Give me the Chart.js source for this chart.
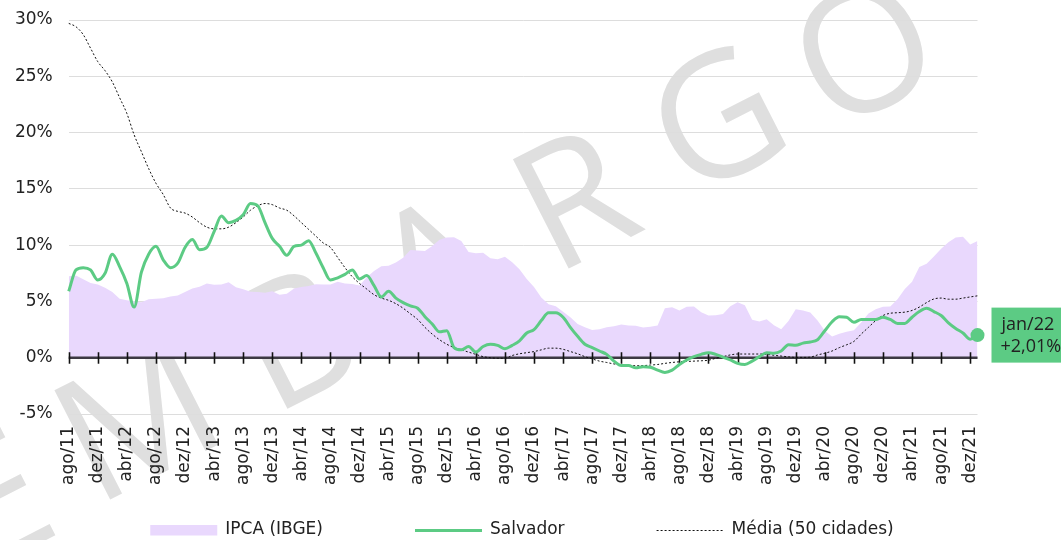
<!DOCTYPE html>
<html><head><meta charset="utf-8">
<script src="https://cdn.jsdelivr.net/npm/chart.js@4.4.1/dist/chart.umd.min.js"></script>
<style>html,body{margin:0;padding:0;background:#fff;overflow:hidden}</style>
</head><body>
<canvas id="c" width="1061" height="540"></canvas>
<script>
const categories = [
 'ago/11','set/11','out/11','nov/11','dez/11',
 'jan/12','fev/12','mar/12','abr/12','mai/12','jun/12','jul/12','ago/12','set/12','out/12','nov/12','dez/12',
 'jan/13','fev/13','mar/13','abr/13','mai/13','jun/13','jul/13','ago/13','set/13','out/13','nov/13','dez/13',
 'jan/14','fev/14','mar/14','abr/14','mai/14','jun/14','jul/14','ago/14','set/14','out/14','nov/14','dez/14',
 'jan/15','fev/15','mar/15','abr/15','mai/15','jun/15','jul/15','ago/15','set/15','out/15','nov/15','dez/15',
 'jan/16','fev/16','mar/16','abr/16','mai/16','jun/16','jul/16','ago/16','set/16','out/16','nov/16','dez/16',
 'jan/17','fev/17','mar/17','abr/17','mai/17','jun/17','jul/17','ago/17','set/17','out/17','nov/17','dez/17',
 'jan/18','fev/18','mar/18','abr/18','mai/18','jun/18','jul/18','ago/18','set/18','out/18','nov/18','dez/18',
 'jan/19','fev/19','mar/19','abr/19','mai/19','jun/19','jul/19','ago/19','set/19','out/19','nov/19','dez/19',
 'jan/20','fev/20','mar/20','abr/20','mai/20','jun/20','jul/20','ago/20','set/20','out/20','nov/20','dez/20',
 'jan/21','fev/21','mar/21','abr/21','mai/21','jun/21','jul/21','ago/21','set/21','out/21','nov/21','dez/21',
 'jan/22'
];
const xTickLabels = ['ago/11','dez/11','abr/12','ago/12','dez/12','abr/13','ago/13','dez/13','abr/14','ago/14','dez/14',
 'abr/15','ago/15','dez/15','abr/16','ago/16','dez/16','abr/17','ago/17','dez/17','abr/18','ago/18','dez/18',
 'abr/19','ago/19','dez/19','abr/20','ago/20','dez/20','abr/21','ago/21','dez/21'];
const yTicks = [-5, 0, 5, 10, 15, 20, 25, 30];

const ipca = [
 7.23,7.31,6.97,6.64,6.50,
 6.22,5.85,5.24,5.10,4.99,4.92,5.20,5.24,5.28,5.45,5.53,5.84,
 6.15,6.31,6.59,6.49,6.50,6.70,6.27,6.09,5.86,5.84,5.77,5.91,
 5.59,5.68,6.15,6.28,6.37,6.52,6.50,6.51,6.75,6.59,6.56,6.41,
 7.14,7.70,8.13,8.17,8.47,8.89,9.56,9.53,9.49,9.93,10.48,10.67,
 10.71,10.36,9.39,9.28,9.32,8.84,8.74,8.97,8.48,7.87,6.99,6.29,
 5.35,4.76,4.57,4.08,3.60,3.00,2.71,2.46,2.54,2.70,2.80,2.95,
 2.86,2.84,2.68,2.76,2.86,4.39,4.48,4.19,4.53,4.56,4.05,3.75,
 3.78,3.89,4.58,4.94,4.66,3.37,3.22,3.43,2.89,2.54,3.27,4.31,
 4.19,4.01,3.30,2.40,1.88,2.13,2.31,2.44,3.14,3.92,4.31,4.52,
 4.56,5.20,6.10,6.76,8.06,8.35,8.99,9.68,10.25,10.67,10.74,10.06,
 10.38
];
const salvador = [
 5.9,7.8,8.0,7.8,6.9,7.5,9.2,8.1,6.6,4.5,
 7.6,9.2,9.9,8.7,8.0,8.4,9.8,10.5,9.6,9.8,
 11.2,12.6,12.0,12.2,12.7,13.7,13.5,12.0,10.6,9.9,
 9.1,9.9,10.0,10.4,9.3,8.0,6.9,7.1,7.4,7.8,
 7.0,7.3,6.4,5.4,5.9,5.3,4.9,4.6,4.4,3.65,
 3.0,2.3,2.4,0.9,0.7,1.0,0.5,1.0,1.2,1.1,
 0.8,1.1,1.5,2.2,2.5,3.3,4.0,4.0,3.6,2.7,
 1.9,1.2,0.9,0.6,0.3,-0.3,-0.7,-0.7,-0.9,-0.8,
 -0.85,-1.1,-1.3,-1.1,-0.6,-0.2,0.1,0.3,0.45,0.3,
 0.05,-0.2,-0.5,-0.6,-0.3,0.1,0.45,0.4,0.6,1.15,
 1.1,1.3,1.4,1.6,2.4,3.2,3.65,3.6,3.15,3.4,
 3.4,3.4,3.6,3.4,3.05,3.05,3.6,4.1,4.4,4.1,
 3.75,3.1,2.6,2.2,1.65,2.01
];
const media = [
 29.7,29.4,28.7,27.5,26.3,25.5,24.5,23.1,21.7,19.8,
 18.3,16.8,15.5,14.5,13.3,13.0,12.85,12.5,12.0,11.6,
 11.45,11.45,11.6,12.0,12.5,13.1,13.5,13.7,13.6,13.3,
 13.1,12.6,12.0,11.4,10.8,10.2,9.8,8.9,8.0,7.2,
 6.6,6.1,5.6,5.3,5.1,4.8,4.4,3.9,3.4,2.7,
 2.1,1.6,1.2,0.9,0.7,0.5,0.3,0.1,0.0,-0.05,
 -0.05,0.2,0.35,0.45,0.55,0.7,0.85,0.85,0.75,0.55,
 0.35,0.1,-0.1,-0.3,-0.42,-0.55,-0.62,-0.68,-0.71,-0.7,
 -0.65,-0.6,-0.5,-0.42,-0.36,-0.33,-0.3,-0.27,-0.22,-0.05,
 0.1,0.25,0.33,0.33,0.33,0.33,0.3,0.22,0.15,0.08,
 0.03,0.03,0.05,0.25,0.4,0.6,0.9,1.15,1.45,2.1,
 2.7,3.3,3.75,3.95,4.0,4.05,4.2,4.5,4.9,5.22,
 5.3,5.2,5.2,5.3,5.4,5.5
];
const seriesNames = ['IPCA (IBGE)', 'Salvador', 'Média (50 cidades)'];

const FONT = '"DejaVu Sans", sans-serif';
const LAVENDER = '#e9d8fd';
const GREEN = '#5ccb84';
const TEXT = '#222222';

const watermarkLetters = [['E',-2,505],['M',140,425],['B',298,344],['A',437,272],['R',577,205],['G',720,125],['O',867,57]];

const watermarkPlugin = {
  id: 'watermark',
  beforeDraw(chart) {
    const ctx = chart.ctx;
    ctx.save();
    ctx.fillStyle = '#dfdfdf';
    ctx.font = '172px "Open Sans", sans-serif';
    ctx.textAlign = 'center';
    ctx.textBaseline = 'middle';
    for (const [ch, x, y] of watermarkLetters) {
      ctx.save();
      ctx.translate(x, y);
      ctx.rotate(-27 * Math.PI / 180);
      ctx.fillText(ch, 0, 4);
      ctx.restore();
    }
    ctx.restore();
  }
};

const zeroAxisPlugin = {
  id: 'zeroAxis',
  afterDatasetDraw(chart, args) {
    if (args.index !== 0) return;
    const {ctx, chartArea, scales: {x, y}} = chart;
    const y0 = y.getPixelForValue(0);
    ctx.save();
    ctx.strokeStyle = '#3d3943';
    ctx.lineWidth = 2.5;
    ctx.beginPath();
    ctx.moveTo(chartArea.left, y0);
    ctx.lineTo(chartArea.right, y0);
    ctx.stroke();
    ctx.strokeStyle = '#111';
    ctx.lineWidth = 1.6;
    categories.forEach((c, i) => {
      if (!xTickLabels.includes(c)) return;
      const px = Math.round(x.getPixelForValue(i)) + 0.5;
      ctx.beginPath();
      ctx.moveTo(px, y0 - 5.5);
      ctx.lineTo(px, y0 + 6);
      ctx.stroke();
    });
    ctx.restore();
  }
};

const endLabelPlugin = {
  id: 'endLabel',
  afterDraw(chart) {
    const {ctx, scales: {x, y}} = chart;
    const last = salvador.length - 1;
    const px = x.getPixelForValue(last);
    const py = y.getPixelForValue(salvador[last]);
    const bx = px + 14, bw = 74, bh = 55;
    ctx.save();
    ctx.fillStyle = GREEN;
    ctx.fillRect(bx, py - bh / 2, bw, bh);
    ctx.fillStyle = TEXT;
    ctx.font = '18px "Open Sans", sans-serif';
    ctx.textAlign = 'left';
    ctx.textBaseline = 'middle';
    ctx.fillText(categories[last], bx + 10, py - 10);
    ctx.fillText('+' + salvador[last].toFixed(2).replace('.', ',') + '%', bx + 9, py + 12);
    ctx.restore();
  }
};

const legendPlugin = {
  id: 'customLegend',
  afterDraw(chart) {
    const ctx = chart.ctx;
    const ds = chart.data.datasets;
    const boxW = 67, gapText = 8, gapItem = 92, cy = 530, centerX = 522;
    ctx.save();
    ctx.font = '17px ' + FONT;
    const widths = ds.map(d => boxW + gapText + ctx.measureText(d.label).width);
    const total = widths.reduce((a, b) => a + b, 0) + gapItem * (ds.length - 1);
    let cx = centerX - total / 2;
    ds.forEach((d, i) => {
      if (d.fill) {
        ctx.fillStyle = d.backgroundColor;
        ctx.fillRect(cx, cy - 5, boxW, 10.5);
      } else {
        ctx.strokeStyle = d.borderColor;
        ctx.lineWidth = d.borderWidth;
        ctx.setLineDash(d.borderDash || []);
        ctx.beginPath();
        ctx.moveTo(cx, cy + 0.5);
        ctx.lineTo(cx + boxW, cy + 0.5);
        ctx.stroke();
        ctx.setLineDash([]);
      }
      ctx.fillStyle = TEXT;
      ctx.textAlign = 'left';
      ctx.textBaseline = 'middle';
      ctx.fillText(d.label, cx + boxW + gapText, cy);
      cx += widths[i] + gapItem;
    });
    ctx.restore();
  }
};

new Chart(document.getElementById('c'), {
  type: 'line',
  data: {
    labels: categories,
    datasets: [
      { label: seriesNames[0], data: ipca, fill: 'origin', backgroundColor: LAVENDER, borderColor: LAVENDER,
        borderWidth: 0, pointRadius: 0, tension: 0, order: 2 },
      { label: seriesNames[1], data: salvador, fill: false, borderColor: GREEN, backgroundColor: GREEN,
        borderWidth: 3, cubicInterpolationMode: 'monotone', order: 0, clip: false,
        pointRadius: c => c.dataIndex === salvador.length - 1 ? 7 : 0,
        pointBackgroundColor: GREEN, pointBorderWidth: 0 },
      { label: seriesNames[2], data: media, fill: false, borderColor: '#111', backgroundColor: '#111',
        borderWidth: 1, borderDash: [2, 2], pointRadius: 0, cubicInterpolationMode: 'monotone', order: 1 }
    ]
  },
  options: {
    responsive: false, animation: false, devicePixelRatio: 1,
    events: [],
    layout: { padding: { top: 20, left: 0, right: 83.5, bottom: 43 } },
    plugins: { legend: { display: false }, tooltip: { enabled: false } },
    scales: {
      x: {
        type: 'category', offset: false,
        grid: { display: false, drawTicks: false }, border: { display: false },
        ticks: {
          autoSkip: false, maxRotation: 90, minRotation: 90, padding: 12, color: TEXT,
          font: { family: FONT, size: 17 },
          callback(v, i) { const l = categories[i]; return xTickLabels.includes(l) ? l : ''; }
        }
      },
      y: {
        min: yTicks[0], max: yTicks[yTicks.length - 1],
        afterBuildTicks(s) { s.ticks = yTicks.map(v => ({ value: v })); },
        afterFit(s) { s.width = 68.7; s.paddingTop = 10; s.paddingBottom = 10; },
        grid: { color: '#dddddd', lineWidth: 1, drawTicks: false },
        border: { display: false },
        ticks: { padding: 16, color: TEXT, font: { family: FONT, size: 17 }, callback: v => v + '%' }
      }
    }
  },
  plugins: [watermarkPlugin, zeroAxisPlugin, endLabelPlugin, legendPlugin]
});
</script>
</body></html>
